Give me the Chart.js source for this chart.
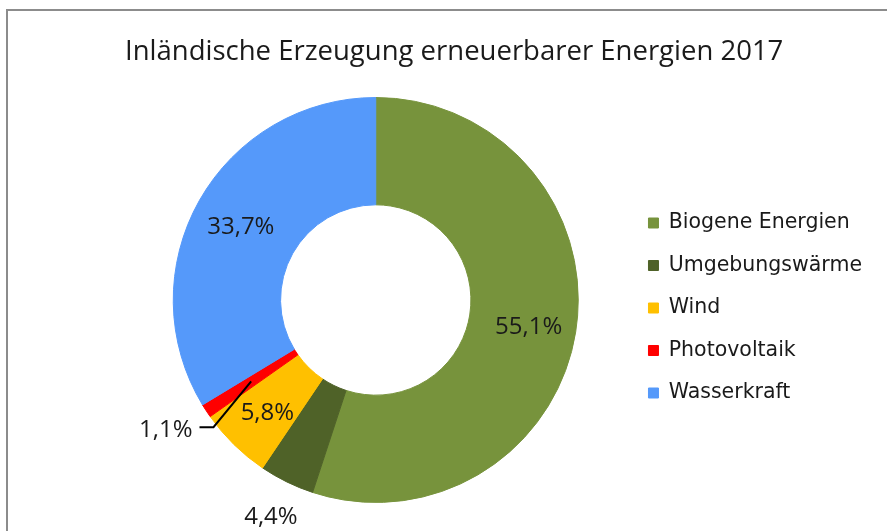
<!DOCTYPE html>
<html>
<head>
<meta charset="utf-8">
<script src="https://cdn.jsdelivr.net/npm/chart.js@4.4.0/dist/chart.umd.min.js"></script>
<style>
  html, body { margin: 0; padding: 0; background: #fff; overflow: hidden; }
  #myChart { display: block; }
</style>
</head>
<body>
<canvas id="myChart" width="887" height="531"></canvas>
<script>
var categories = ['Biogene Energien', 'Umgebungswärme', 'Wind', 'Photovoltaik', 'Wasserkraft']
var shares = [55.1, 4.4, 5.8, 1.1, 33.7]
var colours = ['#77933c', '#4f6228', '#ffc000', '#ff0000', '#5599fa']

var labelFont = '"Open Sans", sans-serif'

// grey frame line top and left, like the cut-out of the office chart
var frame = {
  id: 'frame',
  beforeDraw: function (chart) {
    var ctx = chart.ctx
    ctx.save()
    ctx.strokeStyle = '#8c8c8c'
    ctx.lineWidth = 2
    ctx.beginPath()
    ctx.moveTo(chart.width, 10)
    ctx.lineTo(7, 10)
    ctx.lineTo(7, chart.height)
    ctx.stroke()
    ctx.restore()
  }
}

// percentage labels, inside the ring for big slices, outside for small ones
var pctLabels = {
  id: 'pctLabels',
  afterDatasetsDraw: function (chart) {
    var ctx = chart.ctx
    var meta = chart.getDatasetMeta(0)
    ctx.save()
    ctx.font = '24px ' + labelFont
    ctx.fillStyle = '#1a1a1a'
    ctx.strokeStyle = '#000'
    ctx.lineWidth = 2
    ctx.textAlign = 'center'
    ctx.textBaseline = 'middle'
    meta.data.forEach(function (arc, i) {
      var p = arc.getProps(['x', 'y', 'startAngle', 'endAngle', 'innerRadius', 'outerRadius'], true)
      var mid = (p.startAngle + p.endAngle) / 2
      var midR = (p.innerRadius + p.outerRadius) / 2
      var text = shares[i].toFixed(1).replace('.', ',') + '%'
      var a = mid, r
      if (shares[i] >= 5) r = midR + 6
      else if (shares[i] >= 2) r = p.outerRadius + 36
      else { a = p.endAngle; r = p.outerRadius + 43 }
      var tx = p.x + Math.cos(a) * r
      var ty = p.y + Math.sin(a) * r
      ctx.fillText(text, tx, ty + 3)
      if (shares[i] < 2) {
        var w = ctx.measureText(text).width
        var x0 = tx + w / 2 + 7
        ctx.beginPath()
        ctx.moveTo(x0, ty)
        ctx.lineTo(x0 + 14, ty)
        ctx.lineTo(p.x + Math.cos(mid) * midR, p.y + Math.sin(mid) * midR)
        ctx.stroke()
      }
    })
    ctx.restore()
  }
}

var data = {
  labels: categories,
  datasets: [{
    data: shares,
    backgroundColor: colours,
    borderColor: colours,
    borderWidth: 1
  }]
}

var config = {
  type: 'doughnut',
  data: data,
  options: {
    responsive: false,
    animation: false,
    cutout: '47%',
    layout: { padding: { left: 125, right: 15, top: 0, bottom: 28 } },
    plugins: {
      title: {
        display: true,
        text: 'Inländische Erzeugung erneuerbarer Energien 2017',
        align: 'start',
        color: '#1a1a1a',
        font: { family: labelFont, size: 27.5, weight: 'normal', lineHeight: 1.2 },
        padding: { top: 36, bottom: 28 }
      },
      legend: {
        position: 'right',
        fullSize: false,
        title: { display: true, text: ' ', font: { size: 1 }, padding: { top: 0, bottom: 14.8 } },
        labels: {
          boxWidth: 10,
          boxHeight: 10,
          padding: 22,
          color: '#1a1a1a',
          font: { family: '"DejaVu Sans", Verdana, sans-serif', size: 20.5 }
        }
      },
      tooltip: { enabled: false }
    }
  },
  plugins: [frame, pctLabels]
}

var mychart = new Chart(document.getElementById('myChart'), config)
</script>
</body>
</html>
